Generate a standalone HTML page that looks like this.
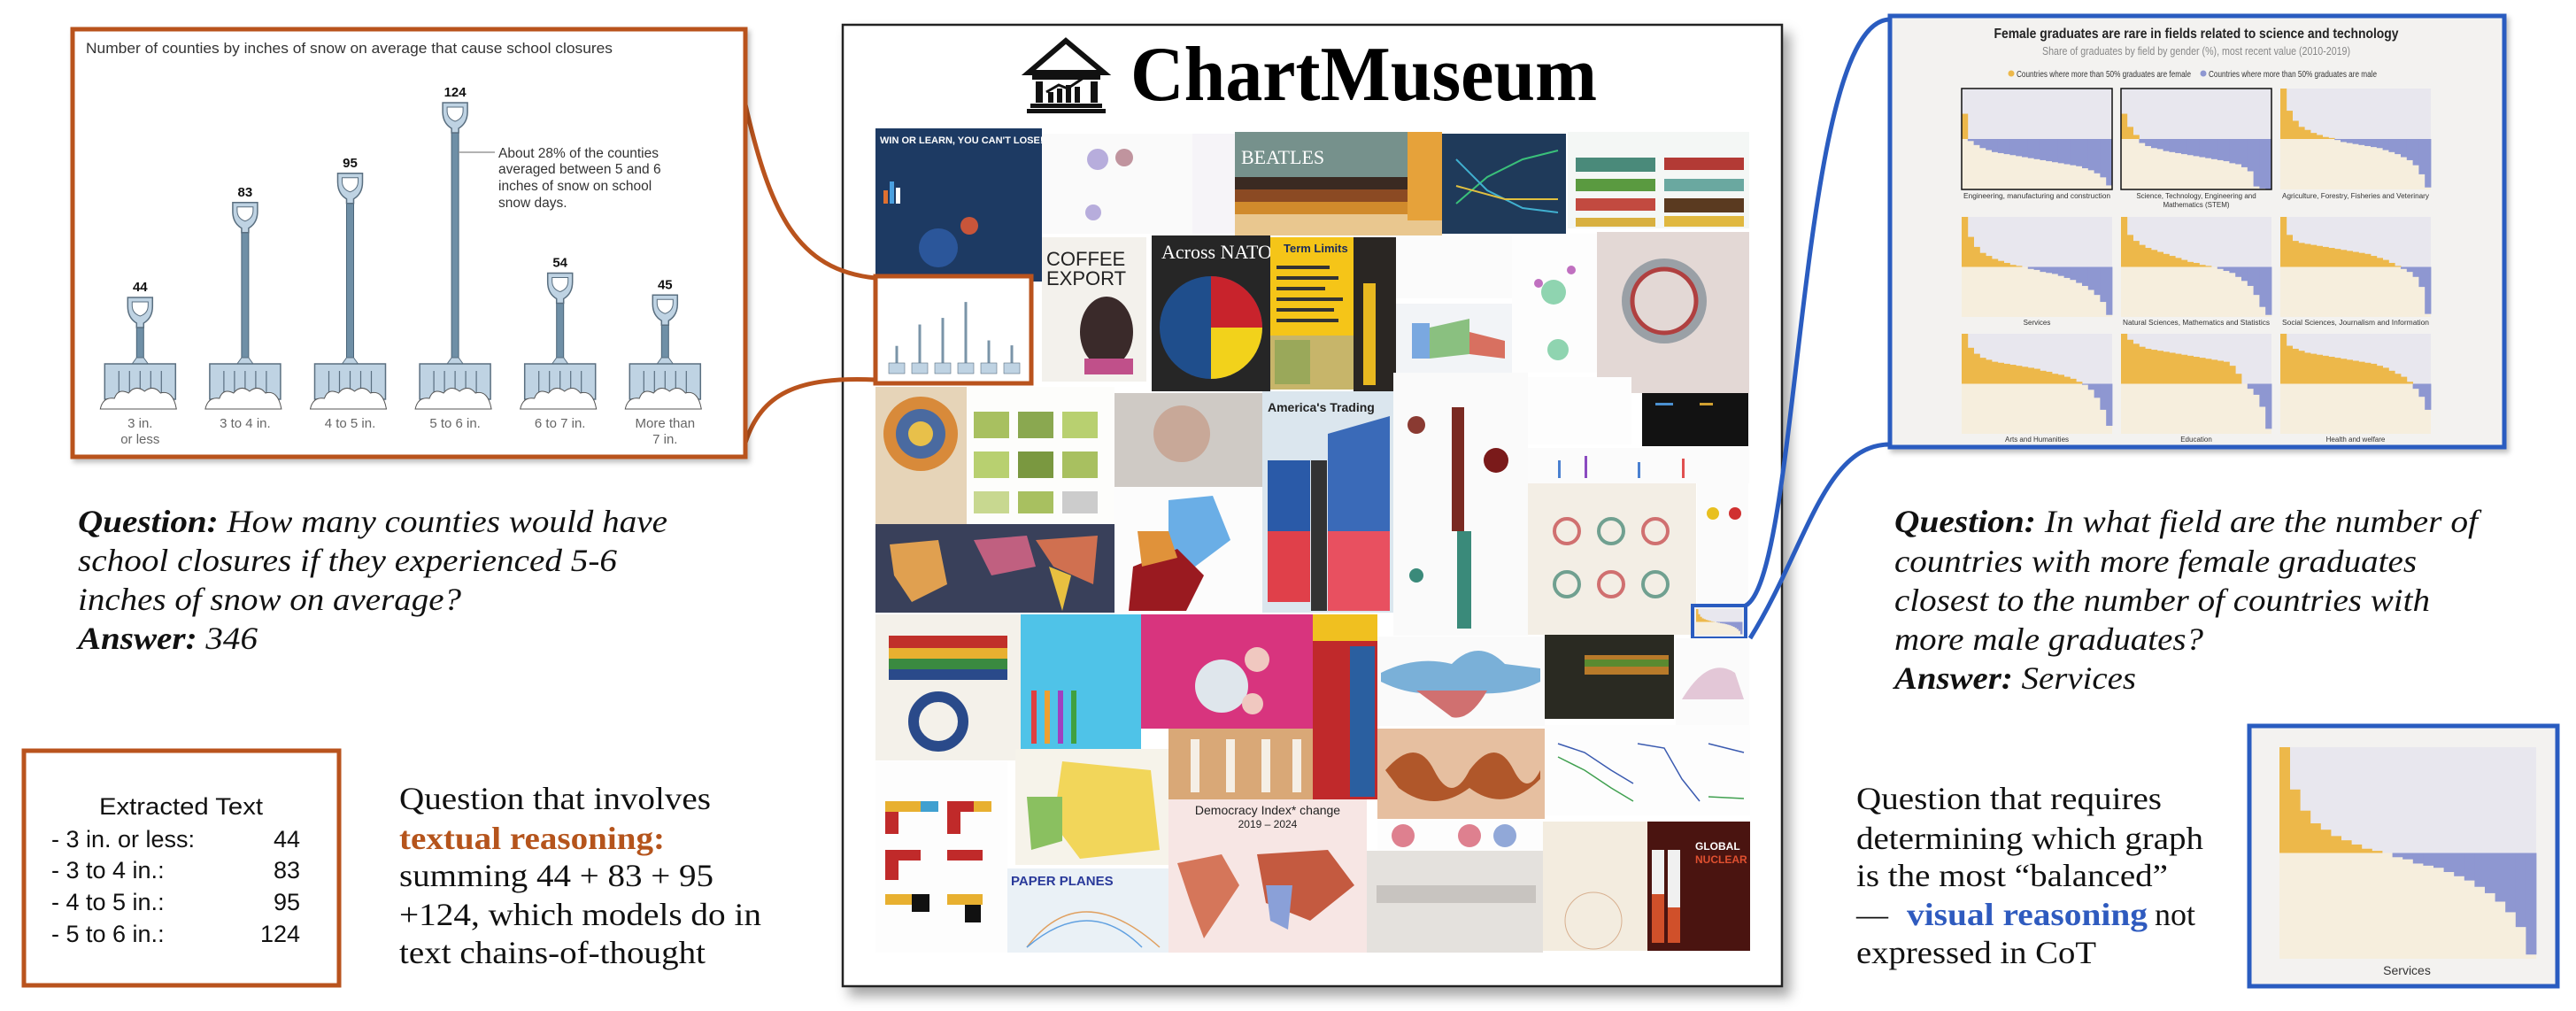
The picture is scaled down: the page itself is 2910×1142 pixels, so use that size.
<!DOCTYPE html>
<html><head><meta charset="utf-8">
<style>
html,body{margin:0;padding:0;background:#fff;}
svg{display:block;}
.serif{font-family:"Liberation Serif",serif;}
.sans{font-family:"Liberation Sans",sans-serif;}
</style></head>
<body>
<svg id="root" width="2910" height="1142" viewBox="0 0 2910 1142" xmlns="http://www.w3.org/2000/svg">
<defs>
<filter id="shadow" x="-5%" y="-5%" width="115%" height="115%">
<feDropShadow dx="8" dy="10" stdDeviation="7" flood-color="#000" flood-opacity="0.35"/>
</filter>
<filter id="shadow2" x="-5%" y="-5%" width="115%" height="115%">
<feDropShadow dx="3" dy="4" stdDeviation="3" flood-color="#000" flood-opacity="0.25"/>
</filter>
</defs>
<rect x="0" y="0" width="2910" height="1142" fill="#fff"/>

<!-- ============ CENTER PANEL ============ -->
<g>
<rect x="952" y="28" width="1061" height="1086" fill="#fff" stroke="#222" stroke-width="2.5" filter="url(#shadow)"/>
<g fill="#111">
<polygon points="1204,46 1162,82 1247,82" fill="none" stroke="#111" stroke-width="6"/>
<rect x="1166" y="84" width="77" height="6"/>
<rect x="1170" y="92" width="8" height="24"/>
<rect x="1232" y="92" width="8" height="24"/>
<rect x="1184" y="104" width="6" height="12"/>
<rect x="1194" y="100" width="6" height="16"/>
<rect x="1204" y="96" width="6" height="20"/>
<rect x="1214" y="98" width="6" height="18"/>
<polyline points="1182,104 1196,96 1206,100 1224,88" fill="none" stroke="#111" stroke-width="3"/>
<rect x="1164" y="117" width="81" height="5"/>
<rect x="1160" y="123" width="89" height="5"/>
</g>
<text class="serif" x="1277" y="113" font-size="88" font-weight="bold" textLength="527" lengthAdjust="spacingAndGlyphs">ChartMuseum</text>

<g>
<rect x="989" y="145" width="188" height="173" fill="#1d3a63"/>
<text class="sans" x="994" y="162" font-size="11" font-weight="bold" fill="#fff">WIN OR LEARN, YOU CAN'T LOSE!</text>
<circle cx="1060" cy="280" r="22" fill="#2f5ea8" opacity="0.8"/><circle cx="1095" cy="255" r="10" fill="#c8553a"/>
<rect x="998" y="215" width="5" height="15" fill="#e07030"/><rect x="1005" y="205" width="5" height="25" fill="#4aa0e0"/><rect x="1012" y="212" width="5" height="18" fill="#fff"/>
<rect x="1177" y="151" width="170" height="113" fill="#fafafa"/>
<circle cx="1240" cy="180" r="12" fill="#8a7ac8" opacity="0.6"/><circle cx="1270" cy="178" r="10" fill="#9a5060" opacity="0.6"/><circle cx="1235" cy="240" r="9" fill="#8a7ac8" opacity="0.6"/>
<rect x="1347" y="151" width="48" height="113" fill="#f6f4f8"/>
<rect x="1395" y="149" width="234" height="117" fill="#76918c"/>
<rect x="1395" y="200" width="234" height="14" fill="#3a2a22"/><rect x="1395" y="214" width="234" height="14" fill="#8b4a23"/><rect x="1395" y="228" width="234" height="14" fill="#d08a2c"/><rect x="1395" y="242" width="234" height="24" fill="#e9c78f"/>
<rect x="1590" y="149" width="39" height="100" fill="#e6a23a"/>
<text class="serif" x="1402" y="185" font-size="22" fill="#fff">BEATLES</text>
<rect x="1629" y="151" width="140" height="113" fill="#1f3a5a"/>
<polyline points="1645,230 1680,200 1720,180 1760,170" fill="none" stroke="#3ac07a" stroke-width="2"/><polyline points="1645,180 1680,215 1720,235 1760,240" fill="none" stroke="#40b0d0" stroke-width="2"/><polyline points="1645,210 1700,225 1760,225" fill="none" stroke="#e0c040" stroke-width="2"/>
<rect x="1771" y="149" width="205" height="109" fill="#f4f7f5"/>
<rect x="1780" y="178" width="90" height="16" fill="#4a8a7a"/><rect x="1880" y="178" width="90" height="14" fill="#b33a35"/>
<rect x="1780" y="202" width="90" height="14" fill="#5a9a40"/><rect x="1880" y="202" width="90" height="14" fill="#6aa8a0"/>
<rect x="1780" y="224" width="90" height="14" fill="#c24a40"/><rect x="1880" y="224" width="90" height="16" fill="#5a3a20"/>
<rect x="1780" y="246" width="90" height="10" fill="#d8b040"/><rect x="1880" y="244" width="90" height="12" fill="#e0b840"/>
<rect x="1177" y="268" width="118" height="163" fill="#f3f1ec"/>
<text class="sans" x="1182" y="300" font-size="22" fill="#222">COFFEE</text><text class="sans" x="1182" y="322" font-size="22" fill="#222">EXPORT</text>
<ellipse cx="1250" cy="375" rx="30" ry="40" fill="#3a2a2a"/><rect x="1225" y="405" width="55" height="18" fill="#c0508a"/>
<rect x="1301" y="266" width="134" height="176" fill="#262626"/>
<text class="serif" x="1312" y="292" font-size="22" fill="#fff">Across NATO</text>
<circle cx="1368" cy="370" r="58" fill="#1f4e8c"/>
<path d="M1368 312 A58 58 0 0 1 1426 370 L1368 370 Z" fill="#c8232c"/>
<path d="M1426 370 A58 58 0 0 1 1368 428 L1368 370 Z" fill="#f2d21b"/>
<rect x="1435" y="268" width="94" height="111" fill="#f5c518"/>
<text class="sans" x="1450" y="285" font-size="13" font-weight="bold" fill="#1a2a5a">Term Limits</text>
<rect x="1442" y="300" width="60" height="4" fill="#333"/><rect x="1442" y="312" width="70" height="4" fill="#333"/><rect x="1442" y="324" width="55" height="4" fill="#333"/><rect x="1442" y="336" width="75" height="4" fill="#333"/><rect x="1442" y="348" width="65" height="4" fill="#333"/><rect x="1442" y="360" width="70" height="4" fill="#333"/>
<rect x="1435" y="379" width="94" height="61" fill="#c7b56a"/>
<rect x="1440" y="384" width="40" height="50" fill="#9aa85a"/>
<rect x="1529" y="268" width="48" height="174" fill="#2a2623"/>
<rect x="1540" y="320" width="14" height="115" fill="#e8b820"/>
<rect x="1577" y="266" width="131" height="71" fill="#fbfbfb"/>
<rect x="1577" y="343" width="131" height="78" fill="#f2f4f7"/>
<rect x="1595" y="365" width="20" height="40" fill="#7aa8e0"/><path d="M1615 370 L1660 360 L1660 400 L1615 405 Z" fill="#8ac080"/><path d="M1660 375 L1700 385 L1700 405 L1660 400 Z" fill="#d87060"/>
<rect x="1708" y="264" width="96" height="157" fill="#fdfdfd"/>
<circle cx="1755" cy="330" r="14" fill="#8fd4b0"/><circle cx="1760" cy="395" r="12" fill="#8fd4b0"/><circle cx="1738" cy="320" r="5" fill="#c070c0"/><circle cx="1775" cy="305" r="5" fill="#c070c0"/>
<rect x="1804" y="262" width="172" height="182" fill="#e3d8d5"/>
<circle cx="1880" cy="340" r="48" fill="#9aa0a6"/><circle cx="1880" cy="340" r="36" fill="#e3d8d5" stroke="#b04040" stroke-width="5"/>
<rect x="989" y="437" width="103" height="155" fill="#e6d4b8"/>
<circle cx="1040" cy="490" r="42" fill="#d88a3a"/><circle cx="1040" cy="490" r="28" fill="#4a6aa0"/><circle cx="1040" cy="490" r="14" fill="#e8c04a"/>
<rect x="1092" y="437" width="167" height="155" fill="#fdfdfb"/>
<rect x="1100" y="465" width="40" height="30" fill="#a8c060"/><rect x="1150" y="465" width="40" height="30" fill="#8aa850"/><rect x="1200" y="465" width="40" height="30" fill="#b8d070"/>
<rect x="1100" y="510" width="40" height="30" fill="#b8d070"/><rect x="1150" y="510" width="40" height="30" fill="#7a9840"/><rect x="1200" y="510" width="40" height="30" fill="#a8c060"/>
<rect x="1100" y="555" width="40" height="25" fill="#c8d890"/><rect x="1150" y="555" width="40" height="25" fill="#a8c060"/><rect x="1200" y="555" width="40" height="25" fill="#cccccc"/>
<rect x="1259" y="444" width="167" height="106" fill="#cfcac5"/>
<circle cx="1335" cy="490" r="32" fill="#c8a898"/>
<rect x="1259" y="550" width="167" height="142" fill="#fcfcfc"/>
<path d="M1320 565 L1370 560 L1390 610 L1350 640 L1320 620 Z" fill="#6aaee6"/><path d="M1280 640 L1330 620 L1360 650 L1340 690 L1275 690 Z" fill="#9a1a20"/><path d="M1285 600 L1320 600 L1330 630 L1290 640 Z" fill="#e0923a"/>
<rect x="1426" y="442" width="148" height="250" fill="#dbe6ee"/>
<text class="sans" x="1432" y="465" font-size="14" font-weight="bold" fill="#222">America's Trading</text>
<path d="M1432 520 L1480 520 L1480 600 L1432 600 Z" fill="#2a5aa8"/><path d="M1432 600 L1480 600 L1480 680 L1432 680 Z" fill="#e0404a"/>
<path d="M1500 490 L1570 470 L1570 600 L1500 600 Z" fill="#3a6ab8"/><path d="M1500 600 L1570 600 L1570 690 L1500 690 Z" fill="#e85060"/>
<rect x="1481" y="520" width="18" height="170" fill="#333"/>
<rect x="1574" y="421" width="152" height="297" fill="#fafafa"/>
<rect x="1640" y="460" width="14" height="140" fill="#7a2a22"/><circle cx="1600" cy="480" r="10" fill="#8a3a32"/><circle cx="1690" cy="520" r="14" fill="#7a1a1a"/><rect x="1646" y="600" width="16" height="110" fill="#3a8a7a"/><circle cx="1600" cy="650" r="8" fill="#3a8a7a"/>
<rect x="1726" y="426" width="117" height="76" fill="#fdfdfd"/>
<rect x="1855" y="444" width="120" height="60" fill="#121212"/>
<rect x="1870" y="455" width="20" height="3" fill="#4a90d0"/><rect x="1920" y="455" width="15" height="3" fill="#d0a030"/>
<rect x="1726" y="506" width="250" height="40" fill="#fbfbfb"/>
<rect x="1760" y="520" width="3" height="20" fill="#4a80d0"/><rect x="1790" y="515" width="3" height="25" fill="#8a4ac0"/><rect x="1850" y="522" width="3" height="18" fill="#4a80d0"/><rect x="1900" y="518" width="3" height="22" fill="#e05050"/>
<rect x="1726" y="546" width="190" height="171" fill="#f3eee5"/>
<circle cx="1770" cy="600" r="14" fill="none" stroke="#d07070" stroke-width="4"/><circle cx="1820" cy="600" r="14" fill="none" stroke="#70a090" stroke-width="4"/><circle cx="1870" cy="600" r="14" fill="none" stroke="#d07070" stroke-width="4"/>
<circle cx="1770" cy="660" r="14" fill="none" stroke="#70a090" stroke-width="4"/><circle cx="1820" cy="660" r="14" fill="none" stroke="#d07070" stroke-width="4"/><circle cx="1870" cy="660" r="14" fill="none" stroke="#70a090" stroke-width="4"/>
<rect x="1917" y="546" width="58" height="138" fill="#fbfbfb"/>
<circle cx="1935" cy="580" r="7" fill="#e8c020"/><circle cx="1960" cy="580" r="7" fill="#d03030"/>
<rect x="1912" y="684" width="60" height="37" fill="#f0f0f0" stroke="#2a5cc0" stroke-width="4"/>
<rect x="989" y="592" width="270" height="100" fill="#39405a"/>
<path d="M1005 615 L1060 610 L1070 660 L1030 680 L1010 650 Z" fill="#e0a050"/><path d="M1100 610 L1160 605 L1170 640 L1120 650 Z" fill="#c06080"/><path d="M1170 610 L1240 605 L1235 660 L1190 640 Z" fill="#d07050"/><path d="M1185 640 L1210 650 L1200 690 Z" fill="#e8c040"/>
<rect x="989" y="694" width="164" height="165" fill="#f4f1ea"/>
<rect x="1004" y="718" width="134" height="14" fill="#c0302a"/><rect x="1004" y="732" width="134" height="12" fill="#e8b030"/><rect x="1004" y="744" width="134" height="12" fill="#3a8a40"/><rect x="1004" y="756" width="134" height="12" fill="#2a4a8a"/>
<circle cx="1060" cy="815" r="28" fill="none" stroke="#2a4a8a" stroke-width="12"/>
<rect x="1153" y="694" width="136" height="152" fill="#4fc3e8"/>
<rect x="1165" y="780" width="6" height="60" fill="#e04040"/><rect x="1180" y="780" width="6" height="60" fill="#f0a030"/><rect x="1195" y="780" width="6" height="60" fill="#a040c0"/><rect x="1210" y="780" width="6" height="60" fill="#40a040"/>
<rect x="1289" y="694" width="194" height="129" fill="#d8347e"/>
<circle cx="1380" cy="775" r="30" fill="#dfe6ec"/><circle cx="1420" cy="745" r="14" fill="#f0c8c0"/><circle cx="1415" cy="795" r="12" fill="#f0c8c0"/>
<rect x="1483" y="694" width="73" height="209" fill="#c0292b"/>
<rect x="1483" y="694" width="73" height="30" fill="#f0c020"/><rect x="1525" y="730" width="28" height="170" fill="#2a5fa0"/>
<rect x="1556" y="719" width="189" height="101" fill="#fafafa"/>
<path d="M1560 760 Q1600 740 1640 750 Q1670 720 1700 750 L1740 755 L1740 770 Q1700 790 1640 780 Q1600 790 1560 770 Z" fill="#7ab0d8"/><path d="M1600 780 L1680 780 Q1660 815 1640 810 Z" fill="#d07070"/>
<rect x="1745" y="717" width="146" height="95" fill="#2a2a22"/>
<rect x="1790" y="740" width="95" height="22" fill="#b87a2a"/><rect x="1790" y="745" width="95" height="8" fill="#5a8a30"/>
<rect x="1893" y="721" width="83" height="98" fill="#fbfbfb"/>
<path d="M1900 790 Q1930 740 1960 760 L1970 790 Z" fill="#d8b0c8" opacity="0.7"/>
<rect x="989" y="860" width="149" height="216" fill="#fdfdfd"/>
<rect x="1000" y="905" width="40" height="12" fill="#e8b030"/><rect x="1040" y="905" width="20" height="12" fill="#40a0d0"/><rect x="1000" y="917" width="15" height="25" fill="#c02a2a"/>
<rect x="1070" y="905" width="30" height="12" fill="#c02a2a"/><rect x="1100" y="905" width="20" height="12" fill="#e8b030"/><rect x="1070" y="917" width="15" height="25" fill="#c02a2a"/>
<rect x="1000" y="960" width="40" height="12" fill="#c02a2a"/><rect x="1000" y="972" width="15" height="22" fill="#c02a2a"/><rect x="1070" y="960" width="40" height="12" fill="#c02a2a"/>
<rect x="1000" y="1010" width="30" height="12" fill="#e8b030"/><rect x="1030" y="1010" width="20" height="20" fill="#111"/><rect x="1070" y="1010" width="40" height="12" fill="#e8b030"/><rect x="1090" y="1022" width="18" height="20" fill="#111"/>
<rect x="1147" y="846" width="173" height="131" fill="#f6f3ea"/>
<path d="M1200 860 L1300 870 L1310 960 L1220 970 L1190 930 Z" fill="#f2d65a"/><path d="M1160 900 L1200 900 L1200 950 L1165 960 Z" fill="#8ac060"/>
<rect x="1320" y="823" width="163" height="80" fill="#d9a877"/>
<rect x="1345" y="835" width="10" height="60" fill="#f5efe6"/><rect x="1385" y="835" width="10" height="60" fill="#f5efe6"/><rect x="1425" y="835" width="10" height="60" fill="#f5efe6"/><rect x="1460" y="835" width="10" height="60" fill="#f5efe6"/>
<rect x="1556" y="823" width="189" height="102" fill="#e6bfa0"/>
<path d="M1565 870 Q1600 830 1620 870 Q1640 910 1660 870 Q1690 830 1710 870 Q1725 900 1740 870 L1740 880 Q1700 920 1660 890 Q1620 920 1580 890 Z" fill="#b0572a"/>
<rect x="1745" y="819" width="232" height="102" fill="#fdfdfd"/>
<polyline points="1760,840 1790,850 1820,870 1845,885" fill="none" stroke="#3a5ab0" stroke-width="1.5"/><polyline points="1760,855 1790,870 1820,890 1845,905" fill="none" stroke="#40a050" stroke-width="1.5"/><polyline points="1850,840 1880,845 1900,880 1920,905" fill="none" stroke="#3a5ab0" stroke-width="1.5"/><polyline points="1930,840 1970,850" fill="none" stroke="#3a5ab0" stroke-width="1.5"/><polyline points="1930,900 1970,902" fill="none" stroke="#40a050" stroke-width="1.5"/>
<rect x="1320" y="903" width="224" height="173" fill="#f7e6e4"/>
<text class="sans" x="1432" y="920" font-size="14" text-anchor="middle" fill="#222">Democracy Index* change</text>
<text class="sans" x="1432" y="935" font-size="12" text-anchor="middle" fill="#222">2019 – 2024</text>
<path d="M1330 975 L1380 965 L1400 1000 L1380 1030 L1360 1060 L1345 1020 Z" fill="#d5765a"/><path d="M1420 965 L1500 960 L1530 1000 L1480 1040 L1430 1020 Z" fill="#c45a40"/><path d="M1430 1000 L1460 1000 L1455 1050 L1435 1040 Z" fill="#8aa0d8"/>
<rect x="1138" y="981" width="182" height="95" fill="#eaf1f6"/>
<text class="sans" x="1142" y="1000" font-size="15" font-weight="bold" fill="#2a3a9a">PAPER PLANES</text>
<path d="M1160 1070 Q1220 990 1310 1070" fill="none" stroke="#e0a060" stroke-width="1.5"/><path d="M1160 1070 Q1230 1010 1290 1070" fill="none" stroke="#60a0e0" stroke-width="1.5"/>
<rect x="1556" y="927" width="187" height="34" fill="#fdfdfd"/>
<circle cx="1585" cy="944" r="13" fill="#d04a60" opacity="0.7"/><circle cx="1660" cy="944" r="13" fill="#d04a60" opacity="0.7"/><circle cx="1700" cy="944" r="13" fill="#4a70c0" opacity="0.6"/>
<rect x="1544" y="961" width="199" height="115" fill="#e4e1dd"/>
<rect x="1555" y="1000" width="180" height="20" fill="#c8c4c0"/>
<rect x="1743" y="928" width="118" height="146" fill="#f3ecdf"/>
<circle cx="1800" cy="1040" r="32" fill="none" stroke="#d8b090" stroke-width="1"/>
<rect x="1861" y="928" width="116" height="146" fill="#4a1410"/>
<rect x="1866" y="960" width="14" height="105" fill="#f0f0f0"/><rect x="1866" y="1010" width="14" height="55" fill="#d0502a"/><rect x="1884" y="960" width="14" height="105" fill="#f0f0f0"/><rect x="1884" y="1025" width="14" height="40" fill="#d0502a"/>
<text class="sans" x="1915" y="960" font-size="12" font-weight="bold" fill="#fff">GLOBAL</text><text class="sans" x="1915" y="975" font-size="12" font-weight="bold" fill="#e05030">NUCLEAR</text>
<rect x="989" y="312" width="176" height="121" fill="#fff" stroke="#b9531d" stroke-width="5"/>
<g id="miniShovels"></g>
</g>
</g>

<!-- ============ CONNECTORS ============ -->
<path d="M842 118 C 870 240, 900 305, 989 314" fill="none" stroke="#b9531d" stroke-width="5"/>
<path d="M842 500 C 860 445, 900 425, 989 429" fill="none" stroke="#b9531d" stroke-width="5"/>
<path d="M1972 684 C 2035 650, 2030 22, 2135 22" fill="none" stroke="#2a5cc0" stroke-width="5"/>
<path d="M1977 721 C 2040 620, 2060 502, 2135 502" fill="none" stroke="#2a5cc0" stroke-width="5"/>

<!-- ============ SNOW CHART ============ -->
<g>
<rect x="82" y="33" width="760" height="483" fill="#fff" stroke="#b9531d" stroke-width="5" filter="url(#shadow2)"/>
<text class="sans" x="97" y="60" font-size="17" fill="#333" textLength="595" lengthAdjust="spacingAndGlyphs">Number of counties by inches of snow on average that cause school closures</text>
<g id="shovels"></g>
<line x1="518" y1="172" x2="559" y2="172" stroke="#999" stroke-width="1.5"/>
<g class="sans" font-size="15.5" fill="#333">
<text x="563" y="178">About 28% of the counties</text>
<text x="563" y="196">averaged between 5 and 6</text>
<text x="563" y="215">inches of snow on school</text>
<text x="563" y="234">snow days.</text>
</g>
</g>

<!-- ============ LEFT TEXT ============ -->
<g class="serif" font-size="36" font-style="italic" fill="#111">
<text x="88" y="601" textLength="666" lengthAdjust="spacingAndGlyphs"><tspan font-weight="bold">Question:</tspan> How many counties would have</text>
<text x="88" y="645" textLength="609" lengthAdjust="spacingAndGlyphs">school closures if they experienced 5-6</text>
<text x="88" y="689" textLength="433" lengthAdjust="spacingAndGlyphs">inches of snow on average?</text>
<text x="88" y="733" textLength="203" lengthAdjust="spacingAndGlyphs"><tspan font-weight="bold">Answer:</tspan> 346</text>
</g>
<g>
<rect x="27" y="848" width="356" height="265" fill="#fff" stroke="#b9531d" stroke-width="5"/>
<g class="sans" font-size="27" fill="#111">
<text x="112" y="920" textLength="185" lengthAdjust="spacingAndGlyphs">Extracted Text</text>
<text x="58" y="957">- 3 in. or less:</text><text x="339" y="957" text-anchor="end">44</text>
<text x="58" y="992">- 3 to 4 in.:</text><text x="339" y="992" text-anchor="end">83</text>
<text x="58" y="1028">- 4 to 5 in.:</text><text x="339" y="1028" text-anchor="end">95</text>
<text x="58" y="1064">- 5 to 6 in.:</text><text x="339" y="1064" text-anchor="end">124</text>
</g>
</g>
<g class="serif" font-size="36" fill="#111">
<text x="451" y="914" textLength="352" lengthAdjust="spacingAndGlyphs">Question that involves</text>
<text x="451" y="959" textLength="300" lengthAdjust="spacingAndGlyphs" font-weight="bold" fill="#b5541c">textual reasoning:</text>
<text x="451" y="1001" textLength="355" lengthAdjust="spacingAndGlyphs">summing 44 + 83 + 95</text>
<text x="451" y="1045" textLength="409" lengthAdjust="spacingAndGlyphs">+124, which models do in</text>
<text x="451" y="1088" textLength="346" lengthAdjust="spacingAndGlyphs">text chains-of-thought</text>
</g>

<!-- ============ RIGHT: GRADUATES CHART ============ -->
<g>
<rect x="2135" y="18" width="694" height="487" fill="#f3f2f0" stroke="#2a5cc0" stroke-width="5" filter="url(#shadow2)"/>
<text class="sans" x="2481" y="43" font-size="16" font-weight="bold" fill="#222" text-anchor="middle" textLength="457" lengthAdjust="spacingAndGlyphs">Female graduates are rare in fields related to science and technology</text>
<text class="sans" x="2481" y="62" font-size="13" fill="#888" text-anchor="middle" textLength="348" lengthAdjust="spacingAndGlyphs">Share of graduates by field by gender (%), most recent value (2010-2019)</text>
<g>
<circle cx="2272" cy="83" r="3.5" fill="#edb84a"/>
<text class="sans" x="2278" y="87" font-size="10.5" fill="#333" textLength="197" lengthAdjust="spacingAndGlyphs">Countries where more than 50% graduates are female</text>
<circle cx="2489" cy="83" r="3.5" fill="#8e97d1"/>
<text class="sans" x="2495" y="87" font-size="10.5" fill="#333" textLength="190" lengthAdjust="spacingAndGlyphs">Countries where more than 50% graduates are male</text>
</g>
<g id="gradPanels"></g>
</g>

<!-- ============ RIGHT TEXT ============ -->
<g class="serif" font-size="36" font-style="italic" fill="#111">
<text x="2140" y="601" textLength="659" lengthAdjust="spacingAndGlyphs"><tspan font-weight="bold">Question:</tspan> In what field are the number of</text>
<text x="2140" y="646" textLength="590" lengthAdjust="spacingAndGlyphs">countries with more female graduates</text>
<text x="2140" y="690" textLength="605" lengthAdjust="spacingAndGlyphs">closest to the number of countries with</text>
<text x="2140" y="734" textLength="349" lengthAdjust="spacingAndGlyphs">more male graduates?</text>
<text x="2140" y="778" textLength="273" lengthAdjust="spacingAndGlyphs"><tspan font-weight="bold">Answer:</tspan> Services</text>
</g>
<g class="serif" font-size="36" fill="#111">
<text x="2097" y="914" textLength="345" lengthAdjust="spacingAndGlyphs">Question that requires</text>
<text x="2097" y="959" textLength="392" lengthAdjust="spacingAndGlyphs">determining which graph</text>
<text x="2097" y="1001" textLength="352" lengthAdjust="spacingAndGlyphs">is the most “balanced”</text>
<text x="2097" y="1045">—</text>
<text x="2154" y="1045" font-weight="bold" fill="#2f5bbf" textLength="272" lengthAdjust="spacingAndGlyphs">visual reasoning</text>
<text x="2434" y="1045">not</text>
<text x="2097" y="1088" textLength="271" lengthAdjust="spacingAndGlyphs">expressed in CoT</text>
</g>
<g>
<rect x="2541" y="820" width="348" height="294" fill="#f3f2f0" stroke="#2a5cc0" stroke-width="5"/>
<g id="servicesBig"></g>
<text class="sans" x="2719" y="1101" font-size="14" fill="#333" text-anchor="middle">Services</text>
</g>
</svg>

<script>
// ---------- Snow chart data ----------
const snowCategories = ["3 in.|or less", "3 to 4 in.", "4 to 5 in.", "5 to 6 in.", "6 to 7 in.", "More than|7 in."];
const snowValues = [44, 83, 95, 124, 54, 45];

// ---------- Graduates chart data (sorted female share %, per field) ----------
const fieldNames = ["Engineering, manufacturing and construction", "Science, Technology, Engineering and|Mathematics (STEM)", "Agriculture, Forestry, Fisheries and Veterinary", "Services", "Natural Sciences, Mathematics and Statistics", "Social Sciences, Journalism and Information", "Arts and Humanities", "Education", "Health and welfare"];
const engValues = [75,48,44,41,39,37,36,35,34,33,32,31,30,29,28,27,26,25,24,23,21,19,16,12,4];
const stemValues = [75,62,54,46,43,41,40,38,37,36,35,34,33,32,31,30,29,28,26,25,22,18,3,1,0];
const agriValues = [100,78,68,62,59,56,54,52,51,49,47,46,45,44,43,42,41,39,37,35,32,29,24,15,2];
const servicesValues = [100,80,70,64,61,58,56,54,52,51,50,48,47,45,44,43,41,39,37,34,31,27,22,15,2];
const natSciValues = [100,82,76,72,69,67,65,63,61,59,57,55,54,52,51,50,48,46,44,40,36,31,22,10,2];
const socSciValues = [100,82,76,74,73,72,71,70,69,68,67,66,65,64,63,61,59,57,54,51,48,45,40,30,3];
const artsValues = [100,86,80,76,74,72,71,70,69,68,67,66,65,63,62,60,59,57,55,52,49,44,36,24,8];
const eduValues = [100,94,90,87,85,84,83,82,81,80,79,78,77,76,75,74,73,72,68,60,50,45,39,27,5];
const healthValues = [100,88,85,83,81,80,79,78,77,76,75,74,73,72,71,70,68,66,63,60,57,52,45,37,24];

const NS = "http://www.w3.org/2000/svg";
function mk(tag, attrs, parent) {
  const el = document.createElementNS(NS, tag);
  for (const k in attrs) el.setAttribute(k, attrs[k]);
  if (parent) parent.appendChild(el);
  return el;
}

// ---------- Draw shovels ----------
(function () {
  const g = document.getElementById("shovels");
  const x0 = 99, band = 118.6;
  const xScale = i => x0 + (i + 0.5) * band;
  const yScale = v => 457 - 2.75 * v;   // top of grip
  const bladeTop = 411, bladeBot = 451;
  snowValues.forEach((v, i) => {
    const cx = xScale(i), gt = yScale(v);
    const sg = mk("g", {}, g);
    
    
    mk("rect", {x: cx - 4, y: gt + 32, width: 8, height: bladeTop - 6 - (gt + 32), fill: "#6f8fa6", stroke: "#4a6478", "stroke-width": 1}, sg);
    mk("path", {d: `M${cx-4} ${bladeTop-7} L${cx+4} ${bladeTop-7} L${cx+9} ${bladeTop} L${cx-9} ${bladeTop} Z`, fill: "#bfd3e3", stroke: "#5a6f80", "stroke-width": 1}, sg);
    mk("path", {d: `M${cx-14} ${gt} h28 v10 q0 13 -10 19 v5 h-8 v-5 q-10 -6 -10 -19 z`, fill: "#bfd3e3", stroke: "#5a6f80", "stroke-width": 1.5}, sg);
    mk("path", {d: `M${cx-9} ${gt+5} h18 v4 q0 9 -9 12 q-9 -3 -9 -12 z`, fill: "#fff", stroke: "#5a6f80", "stroke-width": 1}, sg);
    mk("rect", {x: cx - 40, y: bladeTop, width: 80, height: bladeBot - bladeTop, fill: "#bfd3e3", stroke: "#5a6f80", "stroke-width": 1.5}, sg);
    [-24, -12, 0, 12, 24].forEach(dx => mk("line", {x1: cx + dx, y1: bladeTop + 8, x2: cx + dx, y2: bladeBot, stroke: "#5a6f80", "stroke-width": 1.2}, sg));
    mk("path", {d: `M${cx-45} ${bladeBot+11} q3 -14 16 -12 q4 -12 16 -6 q8 -10 18 -2 q10 -8 18 2 q14 -4 18 18 z`, fill: "#fff", stroke: "#555", "stroke-width": 1}, sg);
    const t = mk("text", {x: cx, y: gt - 7, "text-anchor": "middle", "font-size": 15, "font-weight": "bold", fill: "#111", "font-family": "Liberation Sans, sans-serif"}, sg);
    t.textContent = v;
    
    
    snowCategories[i].split("|").forEach((ln, k) => {
      const c = mk("text", {x: cx, y: 483 + k * 18, "text-anchor": "middle", "font-size": 15, fill: "#666", "font-family": "Liberation Sans, sans-serif"}, sg);
      c.textContent = ln;
      
      
    });
  });

  const mg = document.getElementById("miniShovels");
  const mx = i => 1000 + (i + 0.5) * 26;
  const my = v => 418 - 0.62 * v;
  snowValues.forEach((v, i) => {
    const r = mk("rect", {x: mx(i) - 1.5, y: my(v), width: 3, height: 418 - my(v), fill: "#7a94a8"}, mg);
    
    
    const b = mk("rect", {x: mx(i) - 9, y: 410, width: 18, height: 12, fill: "#bfd3e3", stroke: "#5a6f80", "stroke-width": 0.6}, mg);
    
    
  });
})();

// ---------- Draw graduate panels ----------
function drawPanel(parent, x, y, w, h, values, bordered, name) {
  const g = mk("g", {}, parent);
  
  
  const mid = y + h / 2;
  mk("rect", {x: x, y: y, width: w, height: h / 2, fill: "#e8e7ee"}, g);
  mk("rect", {x: x, y: mid, width: w, height: h / 2, fill: "#f6eedd"}, g);
  const n = values.length, bw = w / n;
  const xs = i => x + i * bw;
  const ys = v => y + h * (1 - v / 100);
  values.forEach((v, i) => {
    const yv = ys(v);
    let r;
    if (v >= 50) r = mk("rect", {x: xs(i), y: yv, width: bw + 0.4, height: mid - yv, fill: "#edb84a"}, g);
    else r = mk("rect", {x: xs(i), y: mid, width: bw + 0.4, height: yv - mid, fill: "#8e97d1"}, g);
    
    
  });
  if (bordered) mk("rect", {x: x, y: y, width: w, height: h, fill: "none", stroke: "#111", "stroke-width": 1.5}, g);
  return g;
}
(function () {
  const g = document.getElementById("gradPanels");
  const series = [engValues, stemValues, agriValues, servicesValues, natSciValues, socSciValues, artsValues, eduValues, healthValues];
  const colX = [2216, 2396, 2576];
  const rowY = [100, 245, 377];
  const rowH = [114, 113, 113];
  const labelY = [224, 367, 499];
  series.forEach((vals, idx) => {
    const c = idx % 3, r = Math.floor(idx / 3);
    drawPanel(g, colX[c], rowY[r], 170, rowH[r], vals, r === 0 && c < 2, 'panel-' + idx);
    fieldNames[idx].split("|").forEach((ln, k) => {
      const t = mk("text", {x: colX[c] + 85, y: labelY[r] + k * 10, "text-anchor": "middle", "font-size": 8, fill: "#333", "font-family": "Liberation Sans, sans-serif"}, g);
      t.textContent = ln;
      if (ln.length > 38) { t.setAttribute("textLength", 166); t.setAttribute("lengthAdjust", "spacingAndGlyphs"); }
      
      
    });
  });
  drawPanel(document.getElementById("servicesBig"), 2575, 844, 290, 239, servicesValues, false, 'services-big-panel');
  drawPanel(document.getElementById("miniShovels"), 1916, 688, 52, 29, servicesValues, false, 'thumb-services-mini');
})();
</script>
</body></html>
